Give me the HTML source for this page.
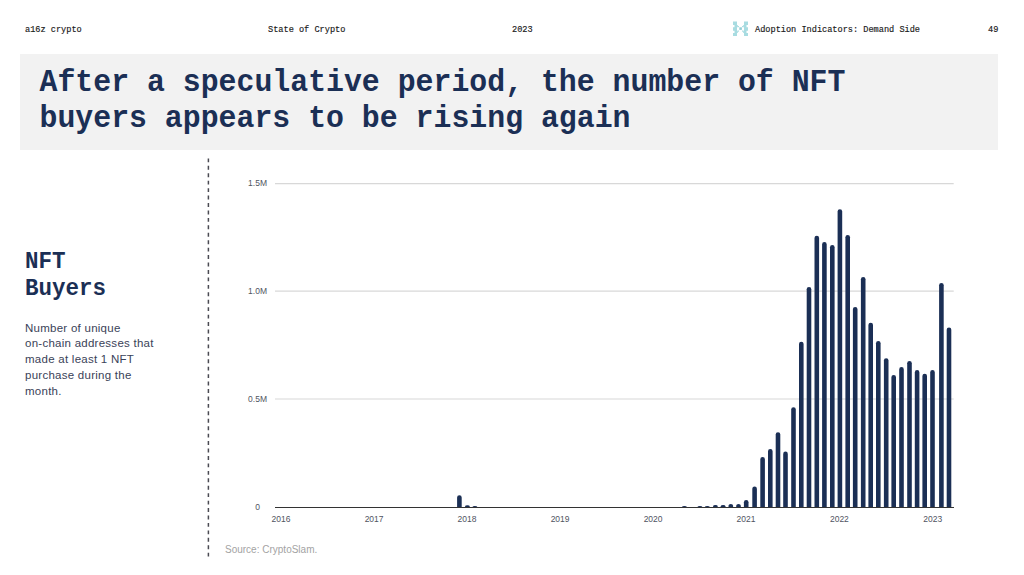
<!DOCTYPE html>
<html><head><meta charset="utf-8">
<style>
html,body{margin:0;padding:0;}
body{width:1024px;height:575px;position:relative;overflow:hidden;background:#fff;font-family:"Liberation Sans",sans-serif;}
.hdr{position:absolute;top:23.5px;font-family:"Liberation Mono",monospace;font-size:8.6px;color:#1a1a1a;line-height:12px;white-space:nowrap;transform:scaleY(1.1);transform-origin:0 9px;-webkit-text-stroke:0.15px #1a1a1a;}
.titlebox{position:absolute;left:20px;top:54px;width:977.6px;height:95.6px;background:#f2f2f2;}
.title{position:absolute;left:39.5px;top:64.6px;font-family:"Liberation Mono",monospace;font-weight:bold;font-size:29.85px;line-height:33.85px;color:#1b2f55;white-space:nowrap;transform:scaleY(1.07);transform-origin:0 0;}
.side{position:absolute;left:25px;top:248px;font-family:"Liberation Mono",monospace;font-weight:bold;font-size:22.5px;line-height:26px;color:#1b2f55;transform:scaleY(1.05);transform-origin:0 0;}
.desc{position:absolute;left:25px;top:320.5px;font-size:11.5px;line-height:15.75px;letter-spacing:0.26px;color:#3a4258;}
.src{position:absolute;left:225px;top:543.5px;font-size:10px;color:#a3a3a3;}
svg{position:absolute;left:0;top:0;}
.yl{font-size:8.5px;fill:#50545f;font-family:"Liberation Sans",sans-serif;}
</style></head><body>
<div class="hdr" style="left:25px">a16z crypto</div>
<div class="hdr" style="left:268px">State of Crypto</div>
<div class="hdr" style="left:512px">2023</div>
<div class="hdr" style="left:755px">Adoption Indicators: Demand Side</div>
<div class="hdr" style="left:988px">49</div>
<div class="titlebox"></div>
<div class="title">After a speculative period, the number of NFT<br>buyers appears to be rising again</div>
<div class="side">NFT<br>Buyers</div>
<div class="desc">Number of unique<br>on-chain addresses that<br>made at least 1 NFT<br>purchase during the<br>month.</div>
<div class="src">Source: CryptoSlam.</div>
<svg width="1024" height="575" viewBox="0 0 1024 575">
<g fill="#a8dce1">
<path d="M733 21.5h4v3.5h0.8v2.2h-0.8v3.5h0.8v2.2h-0.8v3h-4v-3h1.5v-2.2h-1.5v-3.5h1.5v-2.2h-1.5z"/>
<path d="M748 21.5h-4v3.5h-0.8v2.2h0.8v3.5h-0.8v2.2h0.8v3h4v-3h-1.5v-2.2h1.5v-3.5h-1.5v-2.2h1.5z"/>
<rect x="737.8" y="26" width="1.2" height="1.2"/><rect x="742" y="26" width="1.2" height="1.2"/>
<rect x="737.8" y="30.5" width="1.2" height="1.2"/><rect x="742" y="30.5" width="1.2" height="1.2"/>
<rect x="739.3" y="27.3" width="2.6" height="2.6" fill="#95cfd6"/>
</g>
<line x1="208.4" y1="158.4" x2="208.4" y2="559" stroke="#4a4a52" stroke-width="1.5" stroke-dasharray="3.9 3.54"/>
<g stroke="#d8d8d8" stroke-width="1.2">
<line x1="275" y1="183.7" x2="953.7" y2="183.7"/>
<line x1="275" y1="291.2" x2="953.7" y2="291.2"/>
<line x1="275" y1="399" x2="953.7" y2="399"/>
</g>
<g fill="#1b2f55">
<path d="M457.10 507.5V497.50A2.30 2.30 0 0 1 461.70 497.50V507.5Z"/>
<path d="M465.10 507.5V506.35A2.30 1.15 0 0 1 469.70 506.35V507.5Z"/>
<path d="M472.60 507.5V506.75A2.30 0.75 0 0 1 477.20 506.75V507.5Z"/>
<path d="M682.10 507.5V506.75A2.30 0.75 0 0 1 686.70 506.75V507.5Z"/>
<path d="M697.60 507.5V506.75A2.30 0.75 0 0 1 702.20 506.75V507.5Z"/>
<path d="M705.00 507.5V506.75A2.30 0.75 0 0 1 709.60 506.75V507.5Z"/>
<path d="M713.10 507.5V506.25A2.30 1.25 0 0 1 717.70 506.25V507.5Z"/>
<path d="M720.80 507.5V506.25A2.30 1.25 0 0 1 725.40 506.25V507.5Z"/>
<path d="M728.50 507.5V505.75A2.30 1.75 0 0 1 733.10 505.75V507.5Z"/>
<path d="M736.20 507.5V505.75A2.30 1.75 0 0 1 740.80 505.75V507.5Z"/>
<path d="M743.90 507.5V502.30A2.30 2.30 0 0 1 748.50 502.30V507.5Z"/>
<path d="M752.30 507.5V488.80A2.30 2.30 0 0 1 756.90 488.80V507.5Z"/>
<path d="M760.30 507.5V459.30A2.30 2.30 0 0 1 764.90 459.30V507.5Z"/>
<path d="M768.00 507.5V451.30A2.30 2.30 0 0 1 772.60 451.30V507.5Z"/>
<path d="M775.70 507.5V434.50A2.30 2.30 0 0 1 780.30 434.50V507.5Z"/>
<path d="M783.20 507.5V453.90A2.30 2.30 0 0 1 787.80 453.90V507.5Z"/>
<path d="M791.20 507.5V409.60A2.30 2.30 0 0 1 795.80 409.60V507.5Z"/>
<path d="M799.00 507.5V344.10A2.30 2.30 0 0 1 803.60 344.10V507.5Z"/>
<path d="M806.70 507.5V289.20A2.30 2.30 0 0 1 811.30 289.20V507.5Z"/>
<path d="M814.50 507.5V238.10A2.30 2.30 0 0 1 819.10 238.10V507.5Z"/>
<path d="M822.10 507.5V244.40A2.30 2.30 0 0 1 826.70 244.40V507.5Z"/>
<path d="M830.00 507.5V247.20A2.30 2.30 0 0 1 834.60 247.20V507.5Z"/>
<path d="M837.60 507.5V211.50A2.30 2.30 0 0 1 842.20 211.50V507.5Z"/>
<path d="M845.40 507.5V237.30A2.30 2.30 0 0 1 850.00 237.30V507.5Z"/>
<path d="M852.90 507.5V309.20A2.30 2.30 0 0 1 857.50 309.20V507.5Z"/>
<path d="M860.90 507.5V279.30A2.30 2.30 0 0 1 865.50 279.30V507.5Z"/>
<path d="M868.40 507.5V325.00A2.30 2.30 0 0 1 873.00 325.00V507.5Z"/>
<path d="M876.00 507.5V343.30A2.30 2.30 0 0 1 880.60 343.30V507.5Z"/>
<path d="M883.90 507.5V360.60A2.30 2.30 0 0 1 888.50 360.60V507.5Z"/>
<path d="M891.40 507.5V377.30A2.30 2.30 0 0 1 896.00 377.30V507.5Z"/>
<path d="M899.20 507.5V369.40A2.30 2.30 0 0 1 903.80 369.40V507.5Z"/>
<path d="M907.20 507.5V363.30A2.30 2.30 0 0 1 911.80 363.30V507.5Z"/>
<path d="M914.80 507.5V372.40A2.30 2.30 0 0 1 919.40 372.40V507.5Z"/>
<path d="M922.40 507.5V376.10A2.30 2.30 0 0 1 927.00 376.10V507.5Z"/>
<path d="M930.20 507.5V372.40A2.30 2.30 0 0 1 934.80 372.40V507.5Z"/>
<path d="M939.10 507.5V285.30A2.30 2.30 0 0 1 943.70 285.30V507.5Z"/>
<path d="M946.70 507.5V329.70A2.30 2.30 0 0 1 951.30 329.70V507.5Z"/>
</g>
<line x1="275" y1="507.5" x2="954" y2="507.5" stroke="#333" stroke-width="1.2"/>
<g class="yl" text-anchor="end">
<text x="267" y="186.3">1.5M</text>
<text x="267" y="294.1">1.0M</text>
<text x="267" y="402">0.5M</text>
<text x="260" y="510.1">0</text>
</g>
<g class="yl" text-anchor="middle">
<text x="281" y="522.3">2016</text>
<text x="374.1" y="522.3">2017</text>
<text x="467" y="522.3">2018</text>
<text x="560.1" y="522.3">2019</text>
<text x="653.1" y="522.3">2020</text>
<text x="746" y="522.3">2021</text>
<text x="839.4" y="522.3">2022</text>
<text x="932.7" y="522.3">2023</text>
</g>
</svg>
</body></html>
